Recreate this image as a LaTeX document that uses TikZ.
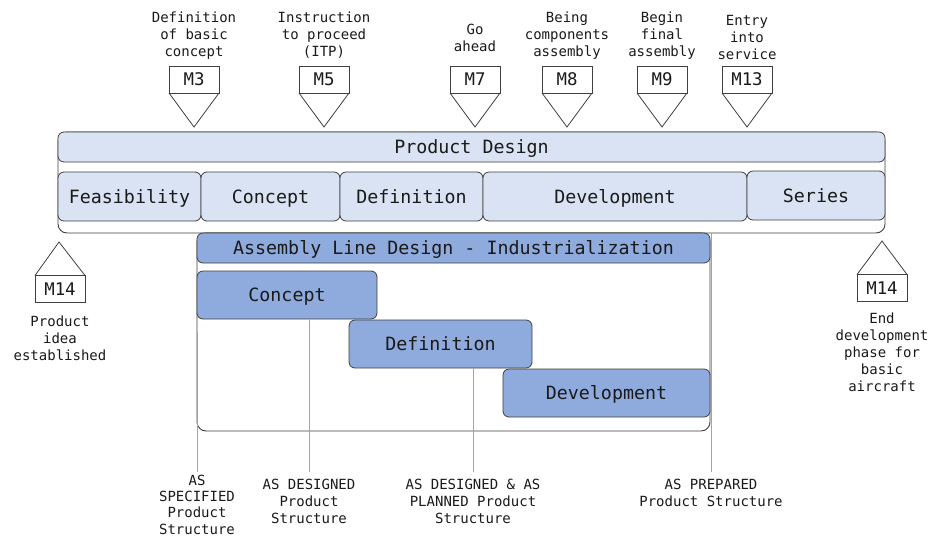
\documentclass[tikz,border=0pt]{standalone}
\usepackage{fontspec}
\setmonofont{DejaVu Sans Mono}
\usetikzlibrary{calc}

\definecolor{pdfill}{HTML}{DAE3F3}
\definecolor{alfill}{HTML}{8FAADC}
\definecolor{edge}{HTML}{3F3F3F}
\definecolor{guide}{HTML}{A3A3A3}
\definecolor{ink}{HTML}{1A1A1A}

\tikzset{
  every node/.style={text=ink, inner sep=0pt, outer sep=0pt},
  lbl/.style={font=\ttfamily\fontsize{14}{17}\selectfont, align=center, anchor=north},
  bar/.style 2 args={draw=edge, line width=0.8pt, rounded corners=6pt,
    minimum width=#1, minimum height=#2, text height=13.4pt, text depth=0pt,
    font=\ttfamily\fontsize{18.3}{22}\selectfont},
  lightbar/.style 2 args={bar={#1}{#2}, fill=pdfill},
  darkbar/.style 2 args={bar={#1}{#2}, fill=alfill},
  frame/.style 2 args={draw=edge, line width=0.9pt, rounded corners=9pt, fill=white,
    minimum width=#1, minimum height=#2},
  mbox/.style={draw=edge, line width=0.8pt, fill=white, minimum width=50pt,
    minimum height=27pt, text height=12.7pt, text depth=0pt,
    font=\ttfamily\fontsize{17.4}{20}\selectfont},
  mline/.style={draw=edge, line width=0.8pt},
  guideline/.style={draw=guide, line width=0.7pt},
}

\begin{document}
\begin{tikzpicture}[x=1pt, y=-1pt]
\useasboundingbox (0,0) rectangle (929,539);

% ---- milestones along the top, pointing down onto the product design bar
\foreach \id/\x/\mname/\txt/\ty in {
    m3/194/M3/{Definition\\of basic\\concept}/11.4,
    m5/324/M5/{Instruction\\to proceed\\(ITP)}/11.4,
    m7/475/M7/{Go\\ahead}/24.4,
    m8/567/M8/{Being\\components\\assembly}/11.4,
    m9/662/M9/{Begin\\final\\assembly}/11.4,
    m13/747/M13/{Entry\\into\\service}/15.4}{
  \node[lbl] (\id-lbl) at (\x,\ty) {\txt};
  \node[mbox] (\id) at (\x,79.5) {\mname};
  \draw[mline] (\id.south west) -- (\x,127) coordinate (\id-tip) -- (\id.south east);
}

% ---- product design block
\node[frame={827pt}{101pt}] (pd) at (471.5,182.5) {};
\node[lightbar={827pt}{30pt}] (pdh) at (471.5,147) {Product Design};
\node[lightbar={143pt}{49pt}] (pfe) at (129.5,196.5) {Feasibility};
\node[lightbar={139pt}{49pt}] (pco) at (270.5,196.5) {Concept};
\node[lightbar={143pt}{49pt}] (pdf) at (411.5,196.5) {Definition};
\node[lightbar={264pt}{49pt}] (pdv) at (615,196.5) {Development};
\node[lightbar={138pt}{49pt}] (pse) at (816,195.5) {Series};

% ---- start / end milestones, pointing up
\node[mbox] (s14) at (60,289) {M14};
\draw[mline] (s14.north west) -- (59,242) coordinate (s14-tip) -- (s14.north east);
\node[lbl] (s14-lbl) at (60,315.4) {Product\\idea\\established};

\node[mbox] (e14) at (882,288) {M14};
\draw[mline] (e14.north west) -- (882,241) coordinate (e14-tip) -- (e14.north east);
\node[lbl] (e14-lbl) at (882,312.4) {End\\development\\phase for\\basic\\aircraft};

% ---- assembly line design block
\node[frame={513pt}{198pt}] (al) at (453.5,332) {};

\coordinate (g1) at (197,472);
\coordinate (g2) at (309,472);
\coordinate (g3) at (473,472);
\coordinate (g4) at (711,472);

\node[darkbar={180pt}{48pt}] (ac) at (287,295) {Concept};
\node[darkbar={183pt}{48pt}] (ad) at (440.5,344) {Definition};

\draw[guideline] (al.west) -- (g1);
\draw[guideline] (ac.south -| g2) -- (g2);
\draw[guideline] (ad.south -| g3) -- (g3);
\draw[guideline] (al.north east -| g4) -- (g4);

\node[darkbar={513pt}{30pt}] (alh) at (453.5,248) {Assembly Line Design - Industrialization};
\node[darkbar={207pt}{48pt}] (av) at (606.5,393) {Development};

% ---- product structure states
\node[lbl, font=\ttfamily\fontsize{14}{16.4}\selectfont] (ps1) at ($(g1)+(0,2.6)$)
  {AS\\SPECIFIED\\Product\\Structure};
\node[lbl] (ps2) at ($(g2)+(0,7.4)$) {AS DESIGNED\\Product\\Structure};
\node[lbl] (ps3) at ($(g3)+(0,7.4)$) {AS DESIGNED \& AS\\PLANNED Product\\Structure};
\node[lbl] (ps4) at ($(g4)+(0,7.4)$) {AS PREPARED\\Product Structure};
\end{tikzpicture}
\end{document}
